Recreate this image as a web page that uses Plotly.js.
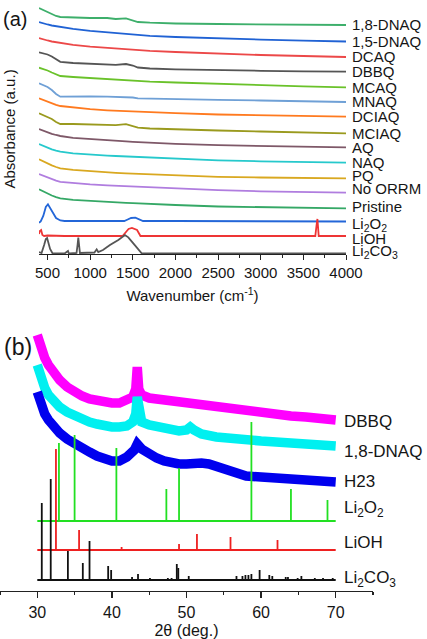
<!DOCTYPE html>
<html>
<head>
<meta charset="utf-8">
<script src="https://cdn.plot.ly/plotly-3.0.1.min.js"></script>
<style>html,body{margin:0;padding:0;background:#fff;}#chart{width:427px;height:639px;}</style>
</head>
<body>
<div id="chart"></div>
<script>
// ---------- Panel (a): FTIR, wavenumber (cm-1) vs absorbance (a.u., stacked) ----------
const wn = [400, 450, 500, 550, 600, 650, 800, 1000, 1200, 1300, 1420, 1500, 1560, 1700, 2000, 2500, 3000, 3500, 4000];
const ftirNames = ["1,8-DNAQ", "1,5-DNAQ", "DCAQ", "DBBQ", "MCAQ", "MNAQ", "DCIAQ", "MCIAQ", "AQ", "NAQ", "PQ", "No ORRM", "Pristine"];
const dnaq18 = [246, 244, 242, 240, 238, 237, 236.5, 236, 236, 235, 235.7, 234, 232, 231.3, 230.5, 230, 229.5, 229, 229];
const dnaq15 = [232, 230.5, 229.5, 228.5, 227.7, 227, 225.2, 223.2, 221.6, 220.9, 220.1, 219.6, 219.2, 218.2, 217, 215.5, 214.4, 213.4, 212.5];
const dcaq   = [216, 214.5, 213.5, 212.5, 211.7, 211, 209.2, 207.4, 206, 205.4, 204.8, 204.4, 204, 203.2, 202, 200.2, 199, 198, 197];
const dbbqA  = [201.7, 200.5, 199.5, 197.5, 194.5, 192.2, 191, 190.4, 189.9, 189.2, 190, 188.5, 186.5, 185.5, 184.7, 183.7, 183.2, 182.7, 182.3];
const mcaq   = [186.3, 185, 183.5, 181.5, 179.5, 178, 177, 175.8, 174.8, 174.3, 173.8, 173.4, 173, 172.3, 171.5, 170, 168.8, 167.7, 166.7];
const mnaq   = [170.7, 169, 167, 164, 160, 157.3, 157.7, 157.5, 157.3, 157, 157.3, 156.5, 155.7, 155.4, 155, 154.2, 153.5, 152.7, 152];
const dciaq  = [155.7, 154, 152.5, 151, 149.2, 148, 146.4, 144.8, 143.7, 143.3, 142.8, 142.5, 142.2, 141.7, 140.8, 139.5, 138.6, 137.9, 137.3];
const mciaq  = [140.7, 139, 137.5, 135, 132, 130, 130, 129.7, 129.3, 128.9, 129.8, 128, 126.3, 125.5, 124.6, 123.5, 122.5, 121.5, 120.7];
const aq     = [125, 123.2, 121.7, 120.2, 119, 118, 116.2, 114.8, 113.7, 113.2, 112.6, 112.2, 111.9, 111.3, 110.2, 108.8, 107.9, 107.2, 106.7];
const naq    = [110, 108, 106.2, 104.6, 103.3, 102.3, 100.7, 99.3, 98.4, 98, 97.5, 97.2, 96.9, 96.3, 95.3, 93.7, 92.7, 91.9, 91.3];
const pq     = [94.7, 92.5, 90.5, 88.7, 87, 85.7, 84.1, 82.7, 81.6, 81.2, 80.7, 80.4, 80.1, 79.6, 78.5, 77.2, 76.5, 76, 75.7];
const noOrrm = [80, 78.2, 76.5, 74.8, 73.3, 72.2, 71, 69.7, 68.7, 68.3, 67.8, 67.5, 67.2, 66.6, 65.4, 63.8, 62.7, 61.9, 61.3];
const pristine = [64.7, 62.5, 60.5, 58.5, 56.9, 55.7, 54.2, 53, 52, 51.6, 51.1, 50.8, 50.5, 50, 49, 47.5, 46.7, 46.1, 45.7];
const ftirSeries = [dnaq18, dnaq15, dcaq, dbbqA, mcaq, mnaq, dciaq, mciaq, aq, naq, pq, noOrrm, pristine];
const ftirColors = ["#3daf6b", "#2062d4", "#ec4848", "#555555", "#6ac22a", "#6fa0d6", "#ff7a1f", "#9a9a1e", "#7e5868", "#26c9cc", "#d9a820", "#b07ddf", "#35a866"];

const li2o2IrX = [400, 420, 450, 480, 505, 530, 560, 600, 650, 700, 1000, 1400, 1440, 1480, 1530, 1570, 1620, 2000, 3000, 4000];
const li2o2IrY = [31.3, 32.5, 38, 47, 49.7, 46, 40.5, 36, 33.5, 33, 33, 33, 34.5, 36, 36.3, 34.5, 33, 33, 33, 32.5];
const liohIrX = [400, 410, 425, 440, 460, 500, 700, 1000, 1380, 1420, 1450, 1490, 1520, 1550, 1590, 2000, 3000, 3640, 3655, 3665, 3680, 3700, 4000];
const liohIrY = [20, 23, 24, 19, 18, 18.5, 18, 18, 18, 22, 25, 26, 25, 24, 18, 18, 18, 18, 29, 35, 18, 18, 18];
const li2co3IrX = [400, 430, 460, 480, 495, 530, 560, 700, 740, 750, 760, 840, 852, 861, 870, 880, 1050, 1076, 1095, 1150, 1232, 1330, 1408, 1447, 1506, 1565, 1604, 4000];
const li2co3IrY = [2, 1, 9, 15, 16, 5, 0.5, 0.5, 3, 0.5, 0.5, 1, 9, 16.5, 9, 1, 1.5, 4.7, 2, 4, 9, 14, 19, 16.7, 10.7, 4.7, 0.7, 0.7];
const refIrNames = ["Li<sub>2</sub>O<sub>2</sub>", "LiOH", "Li<sub>2</sub>CO<sub>3</sub>"];
const refIrColors = ["#2366d8", "#ee3535", "#555555"];
const wnTicks = [500, 1000, 1500, 2000, 2500, 3000, 3500, 4000];

// ---------- Panel (b): XRD, 2theta (deg.) vs intensity (a.u., stacked) ----------
const ttDBBQ = [30, 30.5, 31, 31.5, 32, 33, 34, 35, 36, 37, 38, 39, 40, 41, 42, 42.8, 43.2, 43.4, 43.6, 44, 45, 46, 47, 48, 49, 50, 51, 52, 54, 56, 58, 60, 62, 64, 66, 68, 70];
const iDBBQ  = [256, 243, 233, 226, 220, 211, 204, 199, 195, 192, 190, 189, 188, 188, 190, 194, 202, 224, 202, 196, 193, 192, 191, 190, 189, 189, 188, 185, 184, 182, 181, 179, 177, 175, 174, 172, 171];
const ttDNAQ = [30, 30.5, 31, 31.5, 32, 33, 34, 35, 36, 37, 38, 39, 40, 41, 42, 42.8, 43.2, 43.4, 43.6, 44, 45, 46, 47, 48, 49, 50, 50.5, 51, 52, 54, 56, 58, 60, 62, 64, 66, 68, 70];
const iDNAQ  = [226, 213, 203, 196, 191, 184, 179, 175, 172, 169, 167, 165, 164, 164, 165, 169, 177, 194, 177, 169, 166, 164, 162, 161, 160, 161, 164, 161, 157, 154, 152, 151, 150, 149, 148, 147, 146, 145];
const ttH23  = [30, 30.5, 31, 31.5, 32, 33, 34, 35, 36, 37, 38, 39, 40, 41, 42, 43, 43.4, 44, 45, 46, 47, 48, 49, 50, 51, 52, 53, 54, 55, 56, 57, 58, 60, 62, 64, 66, 68, 70];
const iH23   = [199, 186, 177, 171, 166, 158, 152, 147, 143, 139, 135, 132, 130, 130, 134, 141, 147, 142, 137, 133, 130, 128, 127, 127, 128, 128, 127, 125, 122, 119, 117, 115, 114, 113, 112, 111, 110, 109];
const xrdNames = ["DBBQ", "1,8-DNAQ", "H23"];
const xrdColors = ["#ff00ff", "#00f0f0", "#0000ee"];

// reference stick patterns: baseline offset, peak positions, peak heights
const li2o2Base = 70;
const li2o2Pos = [32.9, 35.0, 40.6, 47.3, 49.0, 58.7, 64.0, 68.9];
const li2o2H   = [78, 86, 73, 32, 53, 99, 32, 21];
const liohBase = 41;
const liohPos = [32.5, 35.6, 41.3, 49.0, 51.4, 55.9, 62.2, 64.2, 68.1];
const liohH   = [101, 20, 3, 6, 16, 13, 10, 1, 1];
const li2co3Base = 11;
const li2co3Pos = [30.6, 31.8, 34.1, 36.1, 37.0, 39.5, 39.9, 42.7, 43.5, 45.1, 47.5, 48.0, 48.7, 48.9, 50.3, 56.7, 57.5, 57.9, 58.3, 58.7, 59.8, 61.1, 61.5, 63.3, 63.6, 64.9, 65.4, 67.2, 68.3, 69.6];
const li2co3H   = [77, 101, 29, 17, 39, 14, 10, 3, 6, 2, 2, 2, 16, 12, 4, 4, 4, 5, 5, 6, 10, 5, 4, 3, 3, 2, 4, 2, 2, 2];
const stickRange = [30, 70];
const refXrdNames = ["Li<sub>2</sub>O<sub>2</sub>", "LiOH", "Li<sub>2</sub>CO<sub>3</sub>"];
const refXrdColors = ["#22e022", "#ee2020", "#111111"];
const ttTicks = [30, 40, 50, 60, 70];

// ---------- build ----------
const W = 427, H = 639;
const FONT = "Liberation Sans, Arial, sans-serif";
const TXT = "#151515";
const traces = [];
ftirSeries.forEach((s, i) => traces.push({x: wn, y: s, type: "scatter", mode: "lines", xaxis: "x", yaxis: "y",
  line: {color: ftirColors[i], width: 1.8}, hoverinfo: "skip"}));
[[li2o2IrX, li2o2IrY], [liohIrX, liohIrY], [li2co3IrX, li2co3IrY]].forEach((p, i) =>
  traces.push({x: p[0], y: p[1], type: "scatter", mode: "lines", xaxis: "x", yaxis: "y",
    line: {color: refIrColors[i], width: 1.8}, hoverinfo: "skip"}));

[[ttDBBQ, iDBBQ], [ttDNAQ, iDNAQ], [ttH23, iH23]].forEach((p, i) =>
  traces.push({x: p[0], y: p[1], type: "scatter", mode: "lines", xaxis: "x2", yaxis: "y2",
    line: {color: xrdColors[i], width: 9.5}, hoverinfo: "skip"}));

function sticks(base, pos, h) {
  const xs = [stickRange[0], stickRange[1], null], ys = [base, base, null];
  pos.forEach((p, k) => { xs.push(p, p, null); ys.push(base, base + h[k], null); });
  return [xs, ys];
}
[[li2o2Base, li2o2Pos, li2o2H], [liohBase, liohPos, liohH], [li2co3Base, li2co3Pos, li2co3H]].forEach((r, i) => {
  const s = sticks(r[0], r[1], r[2]);
  traces.push({x: s[0], y: s[1], type: "scatter", mode: "lines", xaxis: "x2", yaxis: "y2",
    line: {color: refXrdColors[i], width: 1.8}, connectgaps: false, hoverinfo: "skip"});
});

const annotations = [];
// panel (a) labels, placed at the right end of each curve
const ftirEnds = ftirSeries.map(s => s[s.length - 1]);
const ftirDy = [0, 0, 0, 0, 0, 0, 0, 0, 0, 0, 3, 4, 2];
ftirNames.forEach((n, i) => annotations.push({text: n, xref: "paper", yref: "y", x: 350 / W, y: ftirEnds[i] + ftirDy[i],
  xanchor: "left", yanchor: "middle", showarrow: false, font: {size: 15, color: TXT, family: FONT}}));
const refIrLabelY = [li2o2IrY[li2o2IrY.length - 1], liohIrY[liohIrY.length - 1], li2co3IrY[li2co3IrY.length - 1]];
const refIrDy = [-3, -2, 1.5];
refIrNames.forEach((n, i) => annotations.push({text: n, xref: "paper", yref: "y", x: 350 / W, y: refIrLabelY[i] + refIrDy[i],
  xanchor: "left", yanchor: "middle", showarrow: false, font: {size: 15, color: TXT, family: FONT}}));
// panel (b) labels
const xrdLabelY = [iDBBQ[iDBBQ.length - 1] - 2, iDNAQ[iDNAQ.length - 1] - 6, iH23[iH23.length - 1], li2o2Base + 12, liohBase + 8, li2co3Base + 1];
const xrdLabels = xrdNames.concat(refXrdNames);
xrdLabels.forEach((n, i) => annotations.push({text: n, xref: "paper", yref: "y2", x: 342 / W, y: xrdLabelY[i],
  xanchor: "left", yanchor: "middle", showarrow: false, font: {size: 17, color: TXT, family: FONT}}));
// panel letters
annotations.push({text: "(a)", xref: "paper", yref: "paper", x: 1 / W, y: 1 - 19 / H, xanchor: "left", yanchor: "middle",
  showarrow: false, font: {size: 20, color: TXT, family: FONT}});
annotations.push({text: "(b)", xref: "paper", yref: "paper", x: 2 / W, y: 1 - 347 / H, xanchor: "left", yanchor: "middle",
  showarrow: false, font: {size: 23, color: TXT, family: FONT}});

const layout = {
  width: W, height: H,
  margin: {l: 0, r: 0, t: 0, b: 0, pad: 0},
  paper_bgcolor: "#ffffff", plot_bgcolor: "rgba(0,0,0,0)",
  showlegend: false,
  font: {family: FONT, color: TXT},
  xaxis: {domain: [39 / W, 346 / W], range: [400, 4000], anchor: "y",
    tickmode: "array", tickvals: wnTicks, ticks: "outside", ticklen: 5, tickwidth: 1, tickcolor: "#222",
    minor: {dtick: 250, tick0: 0, ticks: "outside", ticklen: 3, tickcolor: "#222"},
    showline: true, linecolor: "#222", linewidth: 1, showgrid: false, zeroline: false,
    tickfont: {size: 15, color: TXT, family: FONT},
    title: {text: "Wavenumber (cm<sup>-1</sup>)", font: {size: 15, color: TXT, family: FONT}, standoff: 10}},
  yaxis: {domain: [(H - 254) / H, (H - 4) / H], range: [0, 250], anchor: "x",
    showline: false, showticklabels: false, ticks: "", showgrid: false, zeroline: false,
    title: {text: "Absorbance (a.u.)", font: {size: 15, color: TXT, family: FONT}, standoff: 18}},
  xaxis2: {domain: [0, 373 / W], range: [25, 75], anchor: "y2",
    tickmode: "array", tickvals: ttTicks, ticks: "outside", ticklen: 6, tickwidth: 1.3, tickcolor: "#222",
    minor: {dtick: 5, tick0: 0, ticks: "outside", ticklen: 3, tickwidth: 1.3, tickcolor: "#222"},
    showline: true, linecolor: "#222", linewidth: 1.3, showgrid: false, zeroline: false,
    tickfont: {size: 16, color: TXT, family: FONT},
    title: {text: "2θ (deg.)", font: {size: 16, color: TXT, family: FONT}, standoff: 21}},
  yaxis2: {domain: [(H - 591) / H, (H - 321) / H], range: [0, 270], anchor: "x2",
    visible: false, showgrid: false, zeroline: false},
  annotations: annotations
};
Plotly.newPlot("chart", traces, layout, {displayModeBar: false, staticPlot: true});
</script>
</body>
</html>
